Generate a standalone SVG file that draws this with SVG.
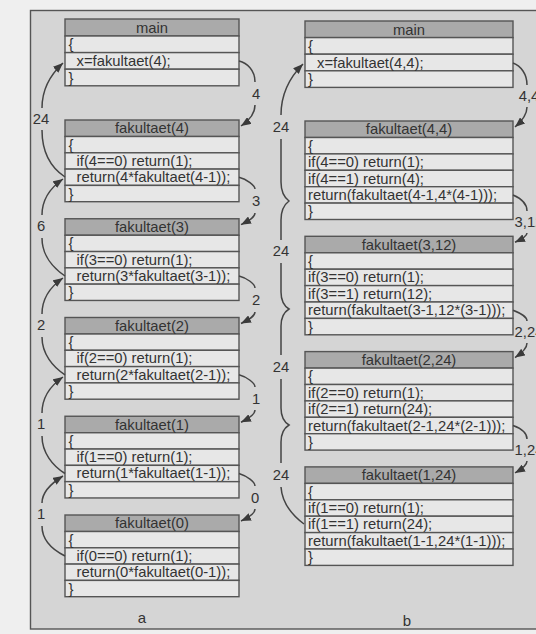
<svg xmlns="http://www.w3.org/2000/svg" width="536" height="634" viewBox="0 0 536 634">
<style>
text{font-family:"Liberation Sans",Arial,sans-serif;font-size:14.8px;fill:#333}
.hd{fill:#aaaaaa;stroke:#555;stroke-width:1.4}
.rw{fill:#e7e7e7;stroke:#555;stroke-width:1.4}
.c{text-anchor:middle}
.ln{fill:none;stroke:#444;stroke-width:1.5}
.lb{text-anchor:middle;font-size:14.8px}
</style>
<defs>
<marker id="ah" markerUnits="userSpaceOnUse" markerWidth="11" markerHeight="8" refX="10" refY="4" orient="auto">
<path d="M0,0 L10,4 L0,8 Z" fill="#3a3a3a"/>
</marker>
</defs>
<rect x="0" y="0" width="536" height="634" fill="#efefef"/>
<rect x="30.5" y="10.5" width="530" height="618.5" fill="#d5d5d5" stroke="#555" stroke-width="1.4"/>

<!-- column a -->
<g id="a-main">
<rect class="hd" x="65" y="19" width="174" height="17"/>
<rect class="rw" x="65" y="36" width="174" height="16.6"/>
<rect class="rw" x="65" y="52.6" width="174" height="16.6"/>
<rect class="rw" x="65" y="69.2" width="174" height="16.6"/>
<text class="c" x="152" y="32.5">main</text>
<text x="68.5" y="49.3">{</text>
<text x="76.5" y="65.9">x=fakultaet(4);</text>
<text x="68.5" y="82.5">}</text>
</g>
<g id="a-f4">
<rect class="hd" x="65" y="120" width="174" height="16.5"/>
<rect class="rw" x="65" y="136.5" width="174" height="16.3"/>
<rect class="rw" x="65" y="152.8" width="174" height="16.3"/>
<rect class="rw" x="65" y="169.1" width="174" height="16.3"/>
<rect class="rw" x="65" y="185.4" width="174" height="16.3"/>
<text class="c" x="152" y="133.3">fakultaet(4)</text>
<text x="68.5" y="149.6">{</text>
<text x="76.5" y="165.9">if(4==0) return(1);</text>
<text x="76.5" y="182.2">return(4*fakultaet(4-1));</text>
<text x="68.5" y="198.5">}</text>
</g>
<g id="a-f3">
<rect class="hd" x="65" y="218.75" width="174" height="16.5"/>
<rect class="rw" x="65" y="235.25" width="174" height="16.3"/>
<rect class="rw" x="65" y="251.55" width="174" height="16.3"/>
<rect class="rw" x="65" y="267.85" width="174" height="16.3"/>
<rect class="rw" x="65" y="284.15" width="174" height="16.3"/>
<text class="c" x="152" y="232">fakultaet(3)</text>
<text x="68.5" y="248.3">{</text>
<text x="76.5" y="264.6">if(3==0) return(1);</text>
<text x="76.5" y="280.9">return(3*fakultaet(3-1));</text>
<text x="68.5" y="297.2">}</text>
</g>
<g id="a-f2">
<rect class="hd" x="65" y="317.5" width="174" height="16.5"/>
<rect class="rw" x="65" y="334" width="174" height="16.3"/>
<rect class="rw" x="65" y="350.3" width="174" height="16.3"/>
<rect class="rw" x="65" y="366.6" width="174" height="16.3"/>
<rect class="rw" x="65" y="382.9" width="174" height="16.3"/>
<text class="c" x="152" y="330.8">fakultaet(2)</text>
<text x="68.5" y="347.1">{</text>
<text x="76.5" y="363.4">if(2==0) return(1);</text>
<text x="76.5" y="379.7">return(2*fakultaet(2-1));</text>
<text x="68.5" y="396">}</text>
</g>
<g id="a-f1">
<rect class="hd" x="65" y="416.25" width="174" height="16.5"/>
<rect class="rw" x="65" y="432.75" width="174" height="16.3"/>
<rect class="rw" x="65" y="449.05" width="174" height="16.3"/>
<rect class="rw" x="65" y="465.35" width="174" height="16.3"/>
<rect class="rw" x="65" y="481.65" width="174" height="16.3"/>
<text class="c" x="152" y="429.5">fakultaet(1)</text>
<text x="68.5" y="445.8">{</text>
<text x="76.5" y="462.1">if(1==0) return(1);</text>
<text x="76.5" y="478.4">return(1*fakultaet(1-1));</text>
<text x="68.5" y="494.7">}</text>
</g>
<g id="a-f0">
<rect class="hd" x="65" y="515" width="174" height="16.5"/>
<rect class="rw" x="65" y="531.5" width="174" height="16.3"/>
<rect class="rw" x="65" y="547.8" width="174" height="16.3"/>
<rect class="rw" x="65" y="564.1" width="174" height="16.3"/>
<rect class="rw" x="65" y="580.4" width="174" height="16.3"/>
<text class="c" x="152" y="528.3">fakultaet(0)</text>
<text x="68.5" y="544.6">{</text>
<text x="76.5" y="560.9">if(0==0) return(1);</text>
<text x="76.5" y="577.2">return(0*fakultaet(0-1));</text>
<text x="68.5" y="593.5">}</text>
</g>

<!-- column b -->
<g id="b-main">
<rect class="hd" x="305" y="21" width="208" height="16.6"/>
<rect class="rw" x="305" y="37.6" width="208" height="16.6"/>
<rect class="rw" x="305" y="54.2" width="208" height="16.6"/>
<rect class="rw" x="305" y="70.8" width="208" height="16.6"/>
<text class="c" x="409" y="34.5">main</text>
<text x="308" y="51">{</text>
<text x="317" y="67.6">x=fakultaet(4,4);</text>
<text x="308" y="84.2">}</text>
</g>
<g id="b-f44">
<rect class="hd" x="305" y="121" width="208" height="16.5"/>
<rect class="rw" x="305" y="137.5" width="208" height="16.4"/>
<rect class="rw" x="305" y="153.9" width="208" height="16.4"/>
<rect class="rw" x="305" y="170.3" width="208" height="16.4"/>
<rect class="rw" x="305" y="186.7" width="208" height="16.4"/>
<rect class="rw" x="305" y="203.1" width="208" height="16.4"/>
<text class="c" x="409" y="134.3">fakultaet(4,4)</text>
<text x="308" y="150.7">{</text>
<text x="308" y="167.1">if(4==0) return(1);</text>
<text x="308" y="183.5">if(4==1) return(4);</text>
<text x="308" y="199.9">return(fakultaet(4-1,4*(4-1)));</text>
<text x="308" y="216.3">}</text>
</g>
<g id="b-f312">
<rect class="hd" x="305" y="236.3" width="208" height="16.5"/>
<rect class="rw" x="305" y="252.8" width="208" height="16.4"/>
<rect class="rw" x="305" y="269.2" width="208" height="16.4"/>
<rect class="rw" x="305" y="285.6" width="208" height="16.4"/>
<rect class="rw" x="305" y="302" width="208" height="16.4"/>
<rect class="rw" x="305" y="318.4" width="208" height="16.4"/>
<text class="c" x="409" y="249.6">fakultaet(3,12)</text>
<text x="308" y="266">{</text>
<text x="308" y="282.4">if(3==0) return(1);</text>
<text x="308" y="298.8">if(3==1) return(12);</text>
<text x="308" y="315.2">return(fakultaet(3-1,12*(3-1)));</text>
<text x="308" y="331.6">}</text>
</g>
<g id="b-f224">
<rect class="hd" x="305" y="351.6" width="208" height="16.5"/>
<rect class="rw" x="305" y="368.1" width="208" height="16.4"/>
<rect class="rw" x="305" y="384.5" width="208" height="16.4"/>
<rect class="rw" x="305" y="400.9" width="208" height="16.4"/>
<rect class="rw" x="305" y="417.3" width="208" height="16.4"/>
<rect class="rw" x="305" y="433.7" width="208" height="16.4"/>
<text class="c" x="409" y="364.9">fakultaet(2,24)</text>
<text x="308" y="381.3">{</text>
<text x="308" y="397.7">if(2==0) return(1);</text>
<text x="308" y="414.1">if(2==1) return(24);</text>
<text x="308" y="430.5">return(fakultaet(2-1,24*(2-1)));</text>
<text x="308" y="446.9">}</text>
</g>
<g id="b-f124">
<rect class="hd" x="305" y="466.9" width="208" height="16.5"/>
<rect class="rw" x="305" y="483.4" width="208" height="16.4"/>
<rect class="rw" x="305" y="499.8" width="208" height="16.4"/>
<rect class="rw" x="305" y="516.2" width="208" height="16.4"/>
<rect class="rw" x="305" y="532.6" width="208" height="16.4"/>
<rect class="rw" x="305" y="549" width="208" height="16.4"/>
<text class="c" x="409" y="480.2">fakultaet(1,24)</text>
<text x="308" y="496.6">{</text>
<text x="308" y="513">if(1==0) return(1);</text>
<text x="308" y="529.4">if(1==1) return(24);</text>
<text x="308" y="545.8">return(fakultaet(1-1,24*(1-1)));</text>
<text x="308" y="562.2">}</text>
</g>

<g id="connectors">
<!-- a: calls (right side) -->
<path class="ln" d="M239,61 C247,63 255,70 255,82"/>
<path class="ln" marker-end="url(#ah)" d="M255,105 C255,114 250,120 241,126"/>
<path class="ln" d="M239,177.3 C247,179 255,186 255,189"/>
<path class="ln" marker-end="url(#ah)" d="M255,213 C255,217 250,220 241,224.7"/>
<path class="ln" d="M239,276 C247,278 255,284 255,288"/>
<path class="ln" marker-end="url(#ah)" d="M255,312 C255,316 250,319 241,323.5"/>
<path class="ln" d="M239,374.8 C247,377 255,383 255,387"/>
<path class="ln" marker-end="url(#ah)" d="M255,410 C255,414 250,418 241,422.2"/>
<path class="ln" d="M239,473.5 C247,476 255,482 255,486"/>
<path class="ln" marker-end="url(#ah)" d="M255,509 C255,513 250,517 241,521"/>
<!-- a: returns (left side) -->
<path class="ln" marker-end="url(#ah)" d="M42,108 C42,89 50,75 63,63"/>
<path class="ln" d="M65,177 C53,169 42,155 42,130"/>
<path class="ln" marker-end="url(#ah)" d="M42,215 C42,200 50,188 63,179"/>
<path class="ln" d="M65,276 C53,268 42,255 42,238"/>
<path class="ln" marker-end="url(#ah)" d="M42,314 C42,299 50,287 63,278"/>
<path class="ln" d="M65,374.8 C53,367 42,354 42,337"/>
<path class="ln" marker-end="url(#ah)" d="M42,413 C42,398 50,386 63,377"/>
<path class="ln" d="M65,473.5 C53,466 42,453 42,436"/>
<path class="ln" marker-end="url(#ah)" d="M42,503 C42,493 50,484 63,476"/>
<path class="ln" d="M65,556 C53,550 42,540 42,526"/>
<!-- b: calls (right side) -->
<path class="ln" d="M513,63 C521,66 527,74 527,85"/>
<path class="ln" marker-end="url(#ah)" d="M527,107 C527,115 522,121 515,127"/>
<path class="ln" d="M513,195 C520,198 527,203 527,211"/>
<path class="ln" marker-end="url(#ah)" d="M527,233 C527,236 522,239 515,242.3"/>
<path class="ln" d="M513,310.2 C520,313 527,316 527,321"/>
<path class="ln" marker-end="url(#ah)" d="M527,343 C527,348 522,353 515,357.6"/>
<path class="ln" d="M513,425.5 C520,428 527,432 527,439"/>
<path class="ln" marker-end="url(#ah)" d="M527,461 C527,465 522,469 515,472.9"/>
<!-- b: return chain (left side) -->
<path class="ln" marker-end="url(#ah)" d="M281,115 C281,95 290,77 303,64"/>
<path class="ln" d="M281,139 L281,182 Q281,195 289,201 Q281,207 281,220 L281,240"/>
<path class="ln" d="M281,263 L281,292 Q281,304 289,309 Q281,314 281,326 L281,355"/>
<path class="ln" d="M281,379 L281,408 Q281,420 289,425 Q281,430 281,442 L281,463"/>
<path class="ln" d="M281,487 C282,502 292,515 304,524"/>
</g>

<g id="labels">
<text class="lb" x="256" y="99">4</text>
<text class="lb" x="256" y="206">3</text>
<text class="lb" x="256" y="305">2</text>
<text class="lb" x="256" y="404">1</text>
<text class="lb" x="255" y="503">0</text>
<text class="lb" x="41" y="124">24</text>
<text class="lb" x="41" y="231">6</text>
<text class="lb" x="41" y="330">2</text>
<text class="lb" x="41" y="429">1</text>
<text class="lb" x="41" y="519">1</text>
<text class="lb" x="529" y="101">4,4</text>
<text class="lb" x="529" y="227">3,12</text>
<text class="lb" x="529" y="337">2,24</text>
<text class="lb" x="529" y="455">1,24</text>
<text class="lb" x="281" y="132">24</text>
<text class="lb" x="281" y="256">24</text>
<text class="lb" x="281" y="372">24</text>
<text class="lb" x="281" y="480">24</text>
<text class="lb" x="142" y="623" style="font-size:15px">a</text>
<text class="lb" x="407" y="626" style="font-size:15px">b</text>
</g>
</svg>
